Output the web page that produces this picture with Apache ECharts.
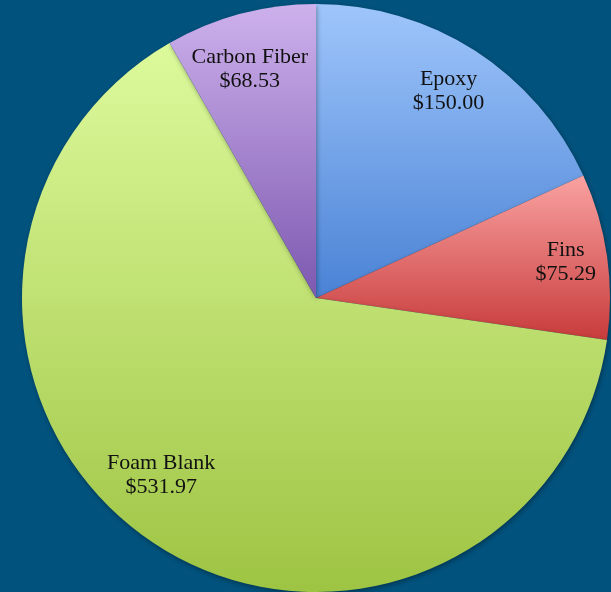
<!DOCTYPE html>
<html>
<head>
<meta charset="utf-8">
<script src="https://cdn.jsdelivr.net/npm/echarts@6/dist/echarts.min.js"></script>
<style>
  html, body { margin: 0; padding: 0; background: #01527d; }
  #chart { width: 611px; height: 592px; }
</style>
</head>
<body>
<div id="chart"></div>
<script>
// Surfboard material costs
const categories = ['Epoxy', 'Fins', 'Foam Blank', 'Carbon Fiber'];
const costs = [150.00, 75.29, 531.97, 68.53];

// Slice shading: top and bottom colour of each vertical gradient
const topColors = ['#9fc6fb', '#f9a2a1', '#ddfa9c', '#cdb1ec'];
const bottomColors = ['#4a82d5', '#c83b3b', '#9ec443', '#7d58b0'];

// Label anchor: share of the radius, and a small angular nudge in degrees
const labelReach = [0.835, 0.858, 0.80, 0.81];
const labelNudge = [0, 0, 7, -1.2];

const CX = 316, CY = 298, R = 294;

const total = costs.reduce((a, b) => a + b, 0);
const midAngles = [];
let acc = 0;
costs.forEach(v => {
  const sweep = v / total * 360;
  midAngles.push(acc + sweep / 2);
  acc += sweep;
});

const chart = echarts.init(document.getElementById('chart'), null, { renderer: 'canvas' });
chart.setOption({
  backgroundColor: '#01527d',
  animation: false,
  series: [{
    type: 'pie',
    center: [CX, CY],
    radius: R,
    startAngle: 90,
    clockwise: true,
    avoidLabelOverlap: false,
    data: categories.map((name, i) => ({
      name: name,
      value: costs[i],
      itemStyle: {
        color: new echarts.graphic.LinearGradient(0, 0, 0, 1, [
          { offset: 0, color: topColors[i] },
          { offset: 1, color: bottomColors[i] }
        ])
      }
    })),
    itemStyle: {
      borderWidth: 0,
      shadowBlur: 5,
      shadowOffsetX: 1,
      shadowOffsetY: 2,
      shadowColor: 'rgba(0,0,0,0.35)'
    },
    emphasis: { disabled: true },
    label: {
      show: true,
      position: 'inside',
      formatter: p => p.name + '\n$' + p.value.toFixed(2),
      fontFamily: '"Liberation Serif", "Times New Roman", serif',
      fontSize: 22,
      lineHeight: 24,
      color: '#111',
      align: 'center',
      verticalAlign: 'middle'
    },
    labelLine: { show: false },
    labelLayout: params => {
      const i = params.dataIndex;
      const a = (midAngles[i] + labelNudge[i]) * Math.PI / 180;
      const d = labelReach[i] * R;
      return {
        x: CX + d * Math.sin(a),
        y: CY - d * Math.cos(a),
        align: 'center',
        verticalAlign: 'middle'
      };
    }
  }]
});
</script>
</body>
</html>
